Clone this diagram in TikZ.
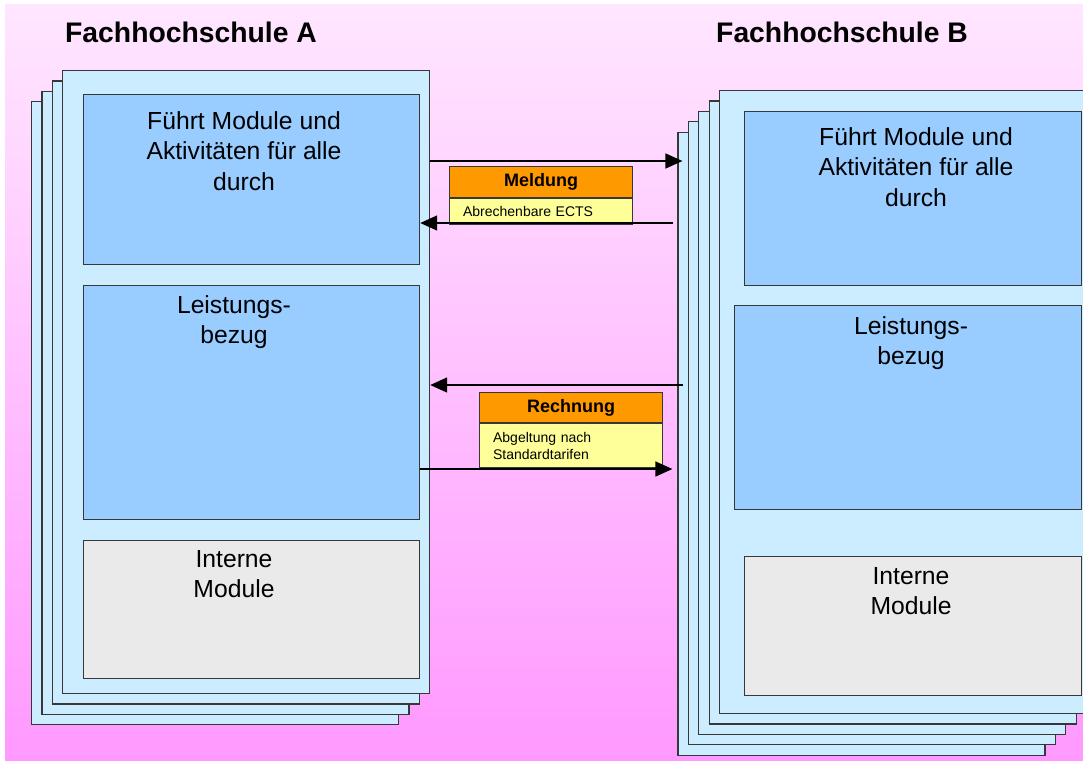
\documentclass[tikz,border=0pt]{standalone}
\usepackage{fontspec}
\setmainfont{Liberation Sans}
\usepackage{xcolor}
\usetikzlibrary{arrows.meta, positioning}
\definecolor{bgtop}{RGB}{255,230,255}
\definecolor{bgbot}{RGB}{255,153,255}
\definecolor{sheetblue}{RGB}{204,236,255}
\definecolor{boxblue}{RGB}{153,204,255}
\definecolor{boxgrey}{RGB}{234,234,234}
\definecolor{headorange}{RGB}{255,153,0}
\definecolor{bodyyellow}{RGB}{255,255,153}
\definecolor{framegrey}{RGB}{55,55,55}
\tikzstyle{arrow} = [line width=1.5pt, -{Triangle[length=17pt, width=15pt]}]
\tikzstyle{sheet} = [rectangle, draw=framegrey, fill=sheetblue, line width=1.2pt, minimum width=367pt, minimum height=623pt, anchor=north west, inner sep=0pt]
\tikzstyle{modbox} = [rectangle, draw=framegrey, fill=boxblue, line width=1.2pt, anchor=north west, inner sep=0pt]
\tikzstyle{boxtext} = [anchor=north, align=center, inner sep=0pt, font=\fontsize{24.7}{30.5}\selectfont]
\tikzstyle{title} = [anchor=base west, inner sep=0pt, font=\bfseries\fontsize{28.3}{34}\selectfont]
\tikzstyle{msghead} = [rectangle, draw=framegrey, fill=headorange, line width=1.2pt, anchor=north west, minimum width=183pt, inner sep=0pt, font=\bfseries\fontsize{18}{21}\selectfont]
\tikzstyle{msgbody} = [rectangle, draw=framegrey, fill=bodyyellow, line width=1.2pt, text width=156pt, inner xsep=13.5pt, inner ysep=0pt, align=left, font=\fontsize{14}{17.5}\selectfont]

\begin{document}
\begin{tikzpicture}[x=1pt, y=-1pt]
    \useasboundingbox (0,0) rectangle (1083,760);
    % Background
    \shade[top color=bgtop, bottom color=bgbot] (5,5) rectangle (1083,760);

    % Fachhochschule A
    \node[title] (titleA) at (65,43) {Fachhochschule A};
    \foreach \i in {3,2,1,0}
        \node[sheet] (a\i) at ({62-10.3*\i},{70+10.3*\i}) {};
    \node[modbox, minimum width=336pt, minimum height=170pt] (afuehrt) at (83,94) {};
    \node[modbox, minimum width=336pt, minimum height=234pt] (aleist) at (83,285) {};
    \node[modbox, fill=boxgrey, minimum width=336pt, minimum height=138pt] (aintern) at (83,540) {};
    \node[boxtext] (afuehrttext) at (244,111) {Führt Module und\\Aktivitäten für alle\\durch};
    \node[boxtext] (aleisttext) at (234,295) {Leistungs-\\bezug};
    \node[boxtext] (ainterntext) at (234,550) {Interne\\Module};

    % Fachhochschule B
    \node[title] (titleB) at (716,43) {Fachhochschule B};
    \foreach \i in {4,3,2,1,0}
        \node[sheet] (b\i) at ({719-10.4*\i},{90+10.4*\i}) {};
    \node[modbox, minimum width=337pt, minimum height=174pt] (bfuehrt) at (744,111) {};
    \node[modbox, minimum width=347pt, minimum height=204pt] (bleist) at (734,305) {};
    \node[modbox, fill=boxgrey, minimum width=337pt, minimum height=139pt] (bintern) at (744,556) {};
    \node[boxtext] (bfuehrttext) at (916,127) {Führt Module und\\Aktivitäten für alle\\durch};
    \node[boxtext] (bleisttext) at (911,316) {Leistungs-\\bezug};
    \node[boxtext] (binterntext) at (911,567) {Interne\\Module};

    % Meldung
    \node[msghead, minimum height=31pt] (mhead) at (449,166) {Meldung};
    \node[msgbody, minimum height=26pt, below=0pt of mhead] (mbody) {Abrechenbare ECTS};

    % Rechnung
    \node[msghead, minimum height=30pt] (rhead) at (479,392) {Rechnung};
    \node[msgbody, minimum height=44pt, below=0pt of rhead] (rbody) {Abgeltung nach\\Standardtarifen};

    % Arrows
    \draw[arrow, shorten >=-5pt] (a0.east |- 0,161) -- (b4.west |- 0,161);
    \draw[arrow, shorten <=4pt] (b4.west |- 0,223) -- (afuehrt.east |- 0,223);
    \draw[arrow, shorten <=-6pt] (b4.west |- 0,385) -- (a0.east |- 0,385);
    \draw[arrow, shorten >=5pt] (aleist.east |- 0,469) -- (b4.west |- 0,469);

\end{tikzpicture}
\end{document}
